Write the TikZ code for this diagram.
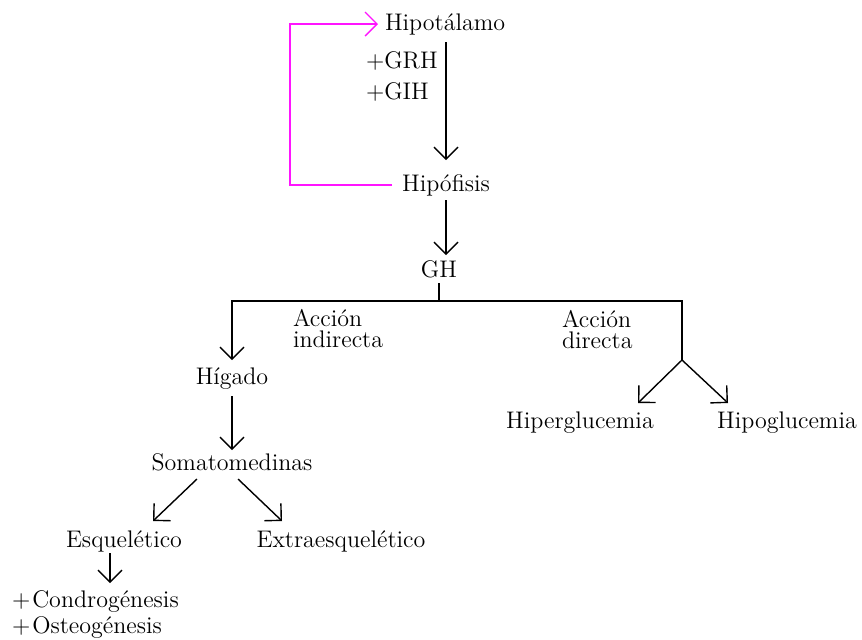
\documentclass[tikz,border=0pt]{standalone}
\usepackage{tikz}
\usetikzlibrary{arrows.meta,calc}
\definecolor{backpink}{RGB}{255,20,255}

\begin{document}
\begin{tikzpicture}[x=0.5pt,y=-0.5pt,
    lbl/.style={font=\fontsize{12}{14}\selectfont, inner sep=0pt, outer sep=0pt,
        text height=9pt, text depth=3pt, anchor=base},
    arr/.style={-{Straight Barb[length=6pt,width=12pt]}, line width=0.7pt},
    backarr/.style={arr, backpink}]
    \useasboundingbox (0,0) rectangle (862,639);

    % Hypothalamus and pituitary
    \node[lbl, anchor=base west] (hipot) at (385,30) {Hipotálamo};
    \node[lbl, anchor=base west] (grh) at (366,68) {+GRH};
    \node[lbl, anchor=base west] (gih) at (366,99) {+GIH};
    \node[lbl] (hipof) at (446,191) {Hipófisis};
    \node[lbl] (gh) at (439,277) {GH};
    \draw[arr, shorten <=3pt, shorten >=6.5pt] (hipof.north |- hipot.south) -- (hipof.north);
    \draw[backarr, shorten <=5pt, shorten >=3.5pt] (hipof.west) -- ++(-112,0) |- (hipot.west);
    \draw[arr, shorten <=1.5pt, shorten >=2pt] (hipof.south) -- (hipof.south |- gh.north);

    % Branches
    \coordinate (bar) at (439,301);
    \coordinate (fork) at (682,360);
    \draw[line width=0.7pt] (gh.south) -- (bar);
    \node[lbl, anchor=base west] (acc1) at (293,326) {Acción};
    \node[lbl, anchor=base west] (ind) at (293,347) {indirecta};
    \node[lbl, anchor=base west] (acc2) at (562,327) {Acción};
    \node[lbl, anchor=base west] (dir) at (562,348) {directa};

    % Direct action
    \node[lbl] (hiper) at (580,428) {Hiperglucemia};
    \node[lbl] (hipog) at (787,428) {Hipoglucemia};
    \coordinate (hiperin) at (638,403);
    \coordinate (hipogin) at (728,403);
    \draw[line width=0.7pt] (bar) -| (fork);
    \draw[arr] (fork) -- (hiperin);
    \draw[arr] (fork) -- (hipogin);

    % Indirect action
    \node[lbl] (higado) at (232,384) {Hígado};
    \node[lbl] (somato) at (232,470) {Somatomedinas};
    \node[lbl] (esq) at (124,547) {Esquelético};
    \node[lbl] (extra) at (341,547) {Extraesquelético};
    \draw[arr, shorten >=3pt] (bar) -| (higado.north);
    \draw[arr, shorten <=3pt, shorten >=1pt] (higado.south) -- (somato.north);
    \coordinate (esqin) at (153,521);
    \coordinate (extrain) at (282,521);
    \draw[arr] ([shift={(-35,3)}]somato.south) -- (esqin);
    \draw[arr] ([shift={(6,3)}]somato.south) -- (extrain);

    % Skeletal effects
    \node[lbl, anchor=base west] (condro) at (12,607) {+\kern1pt Condrogénesis};
    \node[lbl, anchor=base west] (osteo) at (12,633) {+\kern1pt Osteogénesis};
    \coordinate (condroin) at (110,583);
    \draw[arr] (esq.south -| condroin) -- (condroin);
\end{tikzpicture}
\end{document}
